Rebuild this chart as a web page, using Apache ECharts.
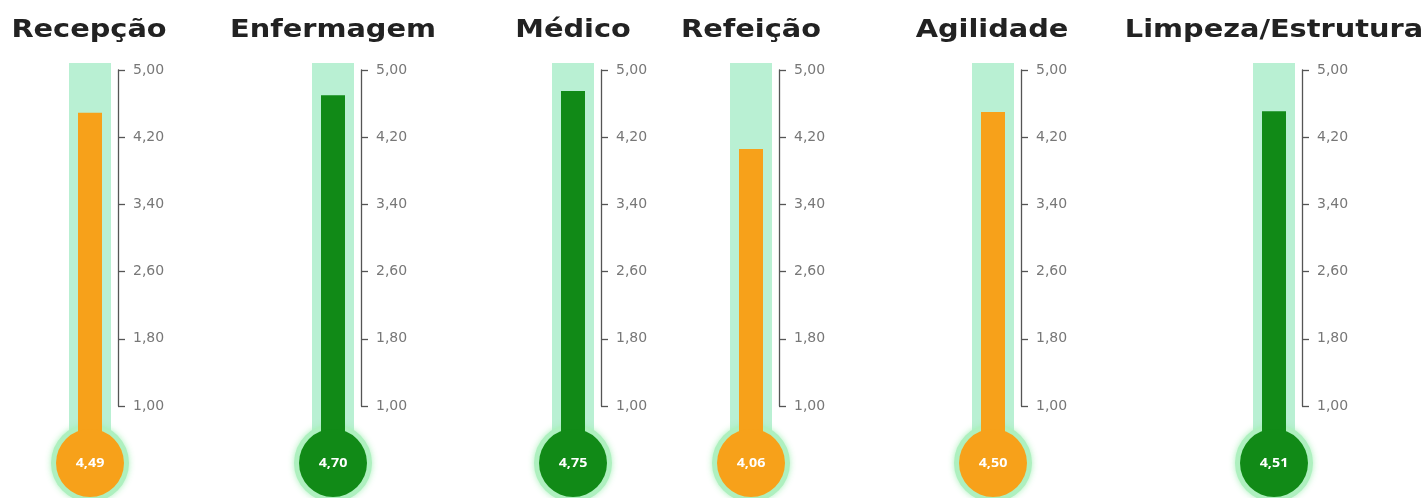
<!DOCTYPE html>
<html><head><meta charset="utf-8">
<script src="https://cdn.jsdelivr.net/npm/echarts@6/dist/echarts.min.js"></script>
<style>html,body{margin:0;padding:0;background:#fff}#c{width:1424px;height:498px}</style>
</head><body><div id="c"></div>
<script>
// ---- data ----
const categories = ['Recepção', 'Enfermagem', 'Médico', 'Refeição', 'Agilidade', 'Limpeza/Estrutura'];
const scores = [4.49, 4.70, 4.75, 4.06, 4.50, 4.51];
const tickValues = [1.00, 1.80, 2.60, 3.40, 4.20, 5.00];
const axisMin = 1;
const axisMax = 5;
const greenAbove = 4.5;

// ---- layout / style ----
const tubeCenters = [90, 333, 573, 751, 993, 1274];
const titleCenters = [89, 333, 573, 751, 992, 1274];
const ORANGE = '#f7a11a', GREEN = '#118a17', TUBE = '#b9f0d3', HALO = '#aef0bf';
const fmt = v => v.toFixed(2).replace('.', ',');

const chart = echarts.init(document.getElementById('c'));
const grids = [], xAxes = [], yAxes = [], series = [], graphics = [];
categories.forEach((name, i) => {
  const c = tubeCenters[i];
  grids.push({ left: c - 28, top: 70, width: 56, height: 336 });
  xAxes.push({ type: 'category', gridIndex: i, data: [name], show: false });
  yAxes.push({
    type: 'value', gridIndex: i, min: axisMin, max: axisMax, position: 'right',
    axisLine: { show: true, lineStyle: { color: '#555', width: 1.3 } },
    axisTick: { show: true, customValues: tickValues, length: 7, lineStyle: { color: '#555', width: 1.3 } },
    axisLabel: { customValues: tickValues, formatter: v => fmt(v), color: '#777', fontSize: 14, margin: 15, fontFamily: 'DejaVu Sans' },
    splitLine: { show: false }
  });
  series.push({
    type: 'custom', xAxisIndex: i, yAxisIndex: i, clip: false,
    data: [[0, scores[i]]],
    renderItem: (params, api) => {
      const v = api.value(1);
      const pTop = api.coord([0, axisMax]);
      const pVal = api.coord([0, v]);
      const pBase = api.coord([0, axisMin]);
      const cx = pTop[0];
      const cy = pBase[1] + 57;
      const col = v > greenAbove ? GREEN : ORANGE;
      return {
        type: 'group', children: [
          { type: 'rect', shape: { x: cx - 21, y: pTop[1] - 7, width: 42, height: cy - pTop[1] + 7 }, style: { fill: TUBE } },
          { type: 'circle', shape: { cx: cx, cy: cy, r: 39 }, style: { fill: HALO, shadowBlur: 6, shadowColor: 'rgba(160,240,180,0.9)' } },
          { type: 'rect', shape: { x: cx - 12, y: pVal[1], width: 24, height: cy - pVal[1] }, style: { fill: col } },
          { type: 'circle', shape: { cx: cx, cy: cy, r: 34 }, style: { fill: col } },
          { type: 'text', x: cx, y: cy, scaleX: 1.1, style: { text: fmt(v), fill: '#fff', font: 'bold 13px "Open Sans"', align: 'center', verticalAlign: 'middle' } }
        ]
      };
    }
  });
  graphics.push({
    type: 'text', x: titleCenters[i], y: 31, scaleX: 1.2,
    style: { text: name, fill: '#222', font: 'bold 24px "DejaVu Sans"', align: 'center', verticalAlign: 'middle' }
  });
});

chart.setOption({
  animation: false,
  grid: grids, xAxis: xAxes, yAxis: yAxes, series: series, graphic: graphics
});
</script></body></html>
